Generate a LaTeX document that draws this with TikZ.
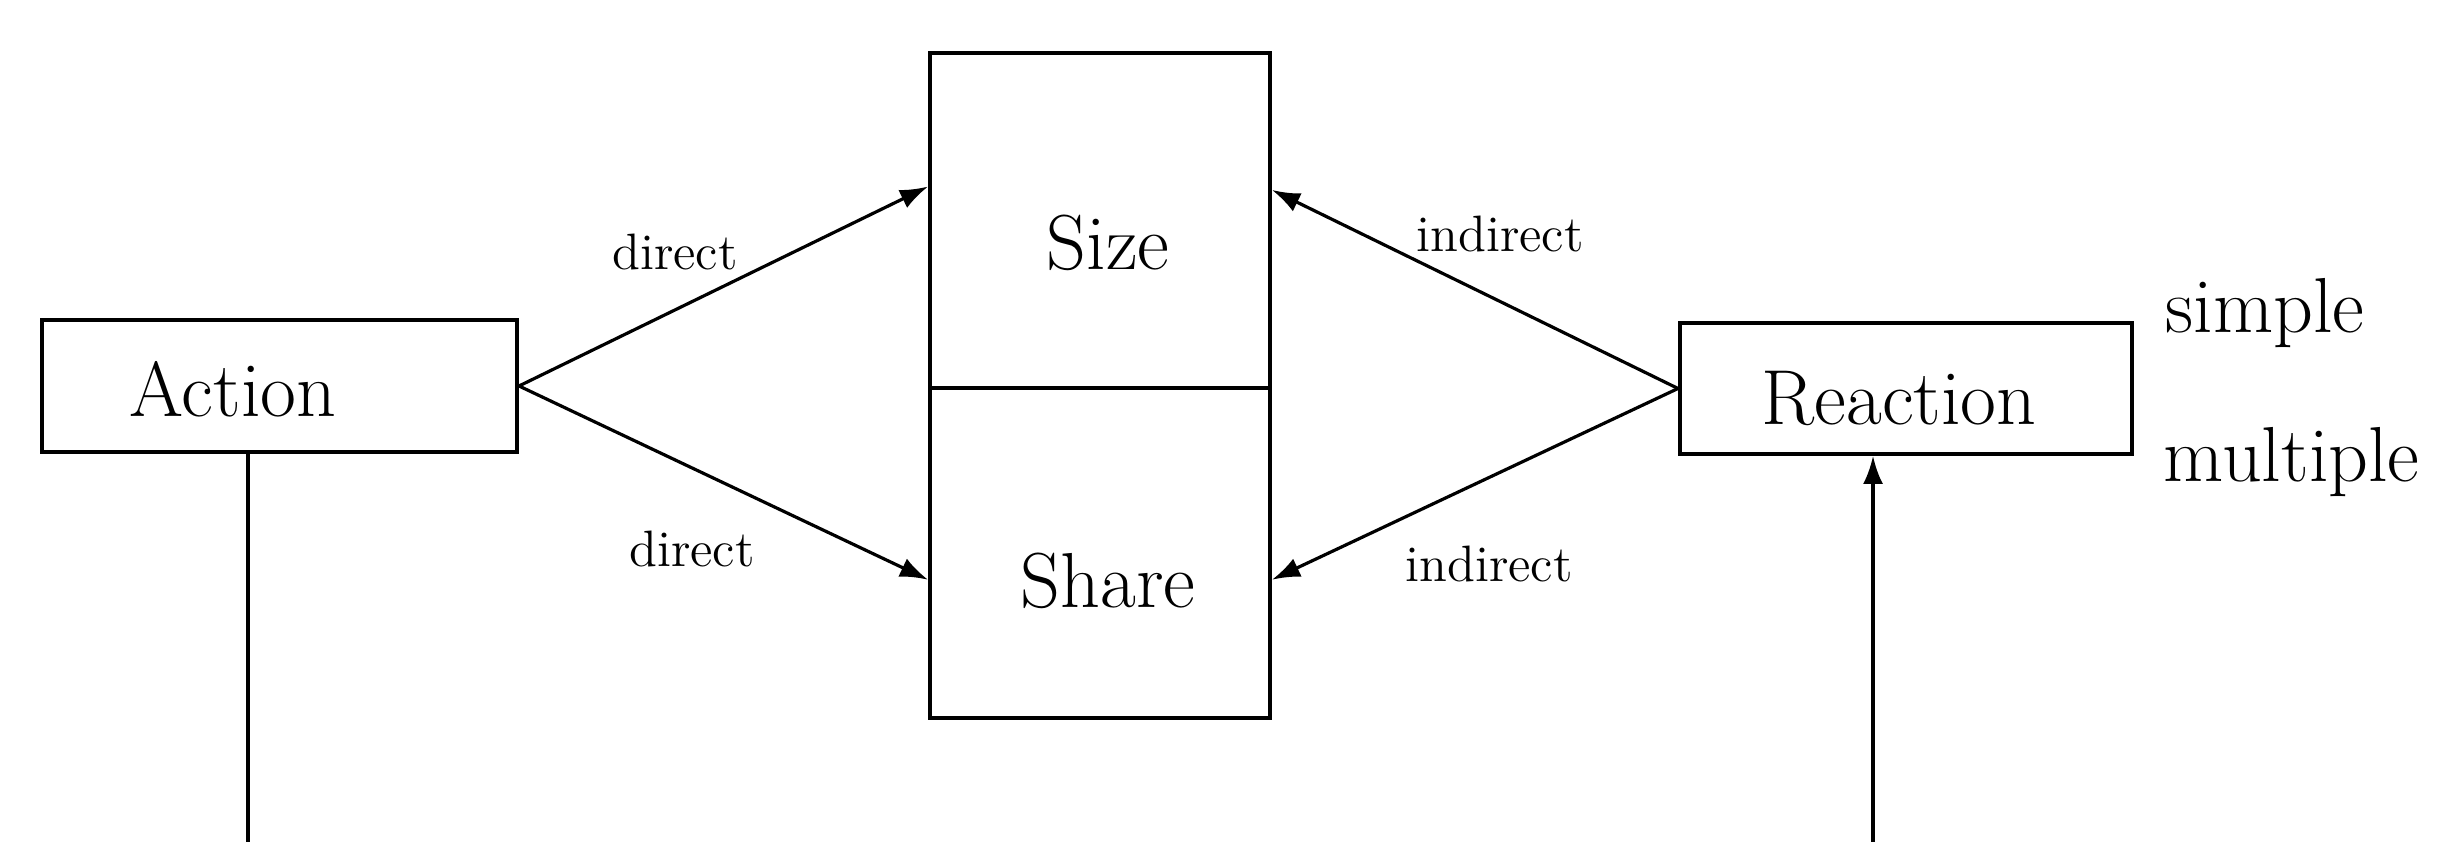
\documentclass[tikz,border=0pt]{standalone}
\usetikzlibrary{arrows.meta,calc}
\begin{document}
\begin{tikzpicture}[x=0.25pt,y=-0.25pt,
  box/.style={draw,line width=1pt,inner sep=0pt,rectangle},
  big/.style={font=\fontsize{19.5}{23}\selectfont,inner sep=0pt},
  small/.style={font=\fontsize{12.8}{15}\selectfont,inner sep=0pt},
  conn/.style={line width=0.8pt},
  tip/.style={-{Latex[length=7pt,width=5pt]}}]
\useasboundingbox (0,0) rectangle (2449,842);
% boxes
\node[box,minimum width=118.75pt,minimum height=33pt] (action) at (279.5,386) {};
\node[big,anchor=base] (actiont) at (233,417) {Action};
\node[box,minimum width=85pt,minimum height=83.75pt] (size) at (1100,220.5) {};
\node[box,minimum width=85pt,minimum height=82.5pt] (share) at (1100,553) {};
\node[big,anchor=base] (sizet) at (1108,270) {Size};
\node[big,anchor=base] (sharet) at (1108,608) {Share};
\node[box,minimum width=113pt,minimum height=32.75pt] (reaction) at (1906,388.5) {};
\node[big,anchor=base] (reactiont) at (1899,425) {Reaction};
\node[big,anchor=base west] (simple) at (2165,333) {simple};
\node[big,anchor=base west] (multiple) at (2163,482) {multiple};
% connectors
\draw[conn,tip] (action.east) -- ($(size.north west)!0.4!(size.south west)$);
\draw[conn,tip] (action.east) -- ($(share.north west)!0.58!(share.south west)$);
\draw[conn,tip] (reaction.west) -- ($(size.north east)!0.41!(size.south east)$);
\draw[conn,tip] (reaction.west) -- ($(share.north east)!0.58!(share.south east)$);
% labels
\node[small,anchor=base] (d1) at (675,270) {direct};
\node[small,anchor=base] (d2) at (692,567) {direct};
\node[small,anchor=base] (i1) at (1500,252) {indirect};
\node[small,anchor=base] (i2) at (1489,582) {indirect};
% vertical lines
\coordinate (abot) at (248,842);
\coordinate (rbot) at (1873,842);
\draw[conn] (action.south -| abot) -- (abot);
\draw[conn,tip] (rbot) -- (reaction.south -| rbot);
\end{tikzpicture}
\end{document}
